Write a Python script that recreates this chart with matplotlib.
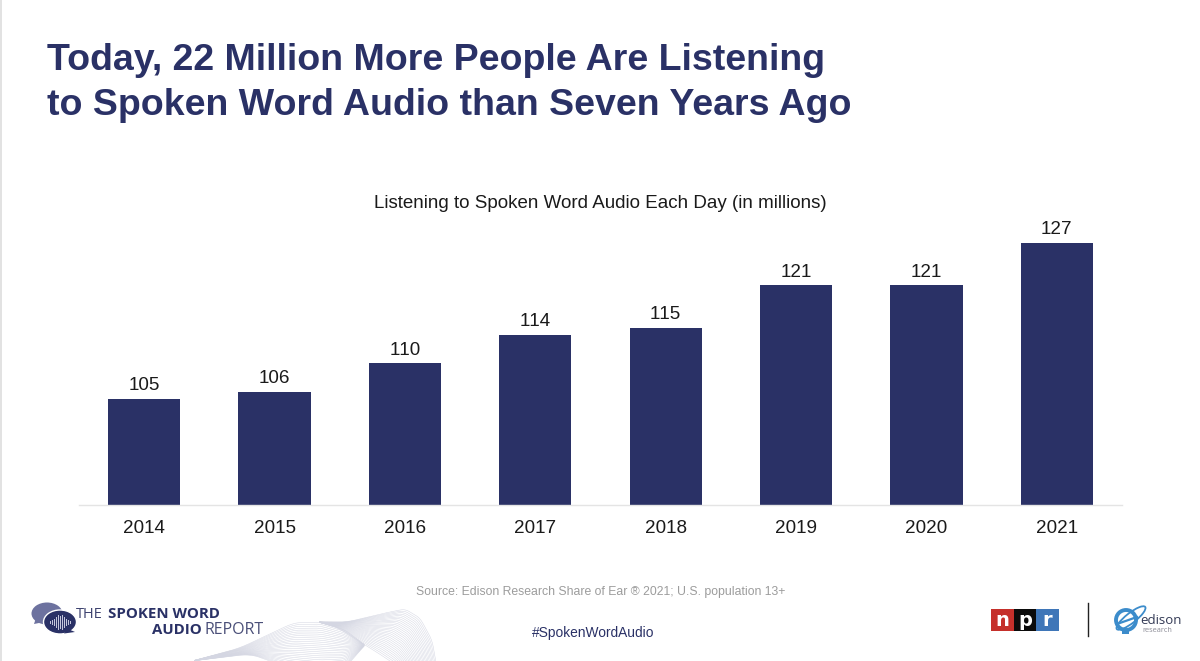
import numpy as np
import matplotlib
matplotlib.use("Agg")
import matplotlib.pyplot as plt
from matplotlib.patches import Rectangle, Ellipse, Polygon, Circle
from matplotlib.text import Annotation

years = ["2014", "2015", "2016", "2017", "2018", "2019", "2020", "2021"]
listeners = [105, 106, 110, 114, 115, 121, 121, 127]

title_lines = ["Today, 22 Million More People Are Listening",
               "to Spoken Word Audio than Seven Years Ago"]
subtitle = "Listening to Spoken Word Audio Each Day (in millions)"
source = "Source: Edison Research Share of Ear \u00ae 2021; U.S. population 13+"
hashtag = "#SpokenWordAudio"

NAVY = "#2A3166"
W, H = 1200, 661
plt.rcParams["font.family"] = ["Liberation Sans", "DejaVu Sans"]


class EvenDigitLabel(Annotation):
    """Annotation drawn without the font's tight kerning of the digit pair 11."""

    def draw(self, renderer):
        with plt.rc_context({"text.kerning_factor": 6}):
            super().draw(renderer)


fig = plt.figure(figsize=(W / 100, H / 100), dpi=100, facecolor="white")

# Overlay in pixel coordinates for the slide furniture
ov = fig.add_axes([0, 0, 1, 1], zorder=0)
ov.set_xlim(0, W)
ov.set_ylim(H, 0)
ov.axis("off")

# Bar chart
BASE, TOP, PX_PER_UNIT = 505, 190, 7.09
ax = fig.add_axes([79 / W, 1 - BASE / H, 1043 / W, (BASE - TOP) / H], zorder=2)
ax.patch.set_alpha(0)
x = np.arange(len(years))
ax.bar(x, listeners, width=0.555, color=NAVY)
ax.set_xlim(-0.5, 7.5)
ax.set_ylim(90, 90 + (BASE - TOP) / PX_PER_UNIT)
ax.set_xticks(x, years)
ax.set_yticks([])
ax.tick_params(axis="x", length=0, pad=10.5, labelsize=13.6, labelcolor="#1a1a1a")
for s in ("top", "left", "right"):
    ax.spines[s].set_visible(False)
ax.spines["bottom"].set_color("#e4e4e4")
ax.spines["bottom"].set_linewidth(1.0)
for xi, v in zip(x, listeners):
    ax.add_artist(EvenDigitLabel(str(v), (xi, v), xytext=(0, 3.2), textcoords="offset points",
                                 xycoords="data", ha="center", va="bottom",
                                 fontsize=13.6, color="#1a1a1a"))

# Slide edge, headline and captions
ov.add_patch(Rectangle((0, 0), 2, H, color="#e2e2e2", lw=0))
ov.text(47, 60.5, title_lines[0], fontsize=26.97, fontweight="bold", color=NAVY, va="center")
ov.text(47, 105.5, title_lines[1], fontsize=26.97, fontweight="bold", color=NAVY, va="center")
ov.text(600, 203, subtitle, fontsize=13.5, color="#1a1a1a", ha="center", va="center")
ov.text(600.5, 592, source, fontsize=8.86, color="#9c9c9c", ha="center", va="center")
ov.text(593.5, 632.5, hashtag, fontsize=9.9, color=NAVY, ha="center", va="center")


# Ribbon of fine lines behind the footer: two fans that meet at a twist
def smooth(points, n=240, win=21):
    points = np.array(points, float)
    t = np.linspace(0, len(points) - 1, n)
    px = np.interp(t, np.arange(len(points)), points[:, 0])
    py = np.interp(t, np.arange(len(points)), points[:, 1])
    kernel = np.ones(win) / win
    pad = win // 2
    px = np.convolve(np.pad(px, pad, mode="edge"), kernel, mode="valid")
    py = np.convolve(np.pad(py, pad, mode="edge"), kernel, mode="valid")
    return px, py


def fan(edge_a, edge_b, count):
    ax_, ay_ = smooth(edge_a)
    bx_, by_ = smooth(edge_b)
    for k in np.linspace(0, 1, count):
        ov.plot(ax_ + (bx_ - ax_) * k, ay_ + (by_ - ay_) * k, color="#d4d6e2", lw=0.35, zorder=1)


fan([(192, 661), (240, 648), (293, 623), (320, 622), (345, 630), (365, 645)],
    [(192, 661), (250, 654), (290, 668), (320, 672), (345, 668), (365, 645)], 26)
fan([(318, 622), (347, 622), (385, 613), (405, 609), (420, 618), (432, 640), (437, 668)],
    [(318, 622), (338, 628), (365, 645), (378, 653), (390, 661), (396, 665), (400, 668)], 30)

# Speech-bubble mark
ov.add_patch(Ellipse((47, 613.5), 31, 22, color="#6D729F", lw=0, zorder=3))
ov.add_patch(Polygon([[36, 618], [34, 624], [44, 622]], color="#6D729F", lw=0, zorder=3))
ov.add_patch(Ellipse((60, 622), 33, 24, fc=NAVY, ec="white", lw=1, zorder=4))
ov.add_patch(Polygon([[68, 629], [75, 632], [64, 633.5]], color=NAVY, lw=0, zorder=4))
for dx, h in zip(range(-10, 11, 2), [1, 2, 3, 5, 7, 6, 7, 5, 3, 2, 1]):
    ov.plot([60 + dx, 60 + dx], [622 - h, 622 + h], color="#c9cbe0", lw=0.7, zorder=5)

# Report wordmark
ov.text(76, 614.5, "THE", fontsize=10.5, color="#3f4470", va="center", family=["Open Sans"], zorder=5)
ov.text(108, 614.5, "SPOKEN WORD", fontsize=10.8, color=NAVY, va="center", fontweight="bold",
        family=["Open Sans"], zorder=5)
ov.text(152, 629.5, "AUDIO", fontsize=10.8, color=NAVY, va="center", fontweight="bold",
        family=["Open Sans"], zorder=5)
ov.text(205, 629.5, "REPORT", fontsize=11.5, color="#4a4f78", va="center", family=["Open Sans"], zorder=5)

# NPR mark
for x0, c, letter in zip([991, 1014, 1036], ["#C5302B", "#0B0B0B", "#3F76B8"], "npr"):
    ov.add_patch(Rectangle((x0, 609), 23 if x0 < 1036 else 22.5, 22, color=c, lw=0))
    ov.text(x0 + 11.5, 626.5, letter, color="white", fontsize=14, fontweight="bold",
            ha="center", va="baseline", family=["DejaVu Sans"])
ov.plot([1087.5, 1087.5], [603, 636], color="#222222", lw=1)

# Edison mark
ov.add_patch(Circle((1126, 620), 10, fill=False, ec="#3C8CCB", lw=2.8))
ov.add_patch(Ellipse((1131, 618), 36, 10, angle=-38, fill=False, ec="#3C8CCB", lw=1.3))
ov.plot([1117, 1137], [624, 617], color="#3C8CCB", lw=1.6)
ov.add_patch(Rectangle((1122, 631), 7, 2.5, color="#3C8CCB", lw=0))
ov.text(1140, 620, "edison", fontsize=9.5, color="#333a55", va="center", family=["Open Sans"])
ov.text(1142, 630.5, "research", fontsize=5.3, color="#8a8a95", va="center", family=["Open Sans"])

fig.savefig("out.png", dpi=100, facecolor="white")
